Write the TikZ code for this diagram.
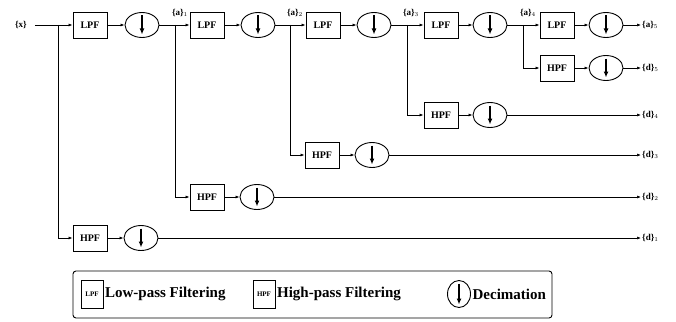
\documentclass[tikz,border=0pt]{standalone}
\usepackage{fontspec}
\setmainfont{Liberation Serif}
\usetikzlibrary{arrows.meta,shapes.geometric}
\tikzset{
  arr/.style={line width=0.7pt,-{Latex[length=4pt,width=3pt]}},
  filt/.style={draw,line width=0.9pt,minimum width=34pt,minimum height=26pt,inner sep=0pt,font=\bfseries\fontsize{10}{10}\selectfont},
  deci/.style={draw,ellipse,line width=0.9pt,minimum width=34pt,minimum height=25pt,inner sep=0pt,
    path picture={\draw[line width=1.3pt,-{Latex[length=6pt,width=5pt]}] ([yshift=-3pt]path picture bounding box.north) -- ([yshift=3pt]path picture bounding box.south);}},
  lab/.style={font=\bfseries\fontsize{9}{9}\selectfont,inner sep=1pt},
  outlab/.style={lab,anchor=west},
  legtxt/.style={anchor=west,font=\bfseries\fontsize{15}{15}\selectfont,inner sep=1.5pt},
  legbox/.style={filt,minimum width=22pt,minimum height=28pt,font=\bfseries\fontsize{7}{7}\selectfont},
}
\begin{document}
\begin{tikzpicture}[x=1pt,y=-1pt]
\useasboundingbox (0,0) rectangle (676,321);
% input
\node[lab] (xin) at (21,25) {\{x\}};
\coordinate (b0) at (58,25);
\node[filt] (lpf1) at (90,25) {LPF};
\node[deci] (d1) at (142,25) {};
\node[lab] (a1) at (180,13) {\{a\}$_1$};
\coordinate (b1) at (175,25);
\node[filt] (lpf2) at (207,25) {LPF};
\node[deci] (d2) at (258,25) {};
\node[lab] (a2) at (295,13) {\{a\}$_2$};
\coordinate (b2) at (290,25);
\node[filt] (lpf3) at (323,25) {LPF};
\node[deci] (d3) at (374,25) {};
\node[lab] (a3) at (411,13) {\{a\}$_3$};
\coordinate (b3) at (407,25);
\node[filt] (lpf4) at (441,25) {LPF};
\node[deci] (d4) at (490,25) {};
\node[lab] (a4) at (528,13) {\{a\}$_4$};
\coordinate (b4) at (523,25);
\node[filt] (lpf5) at (557,25) {LPF};
\node[deci] (d5) at (606,25) {};
\node[outlab] (oa5) at (641,25) {\{a\}$_5$};
% high-pass rows
\node[filt] (hpf5) at (557,68) {HPF};
\node[deci] (dh5) at (606,68) {};
\node[outlab] (od5) at (641,68) {\{d\}$_5$};
\node[filt] (hpf4) at (441,115) {HPF};
\node[deci] (dh4) at (490,115) {};
\node[outlab] (od4) at (641,115) {\{d\}$_4$};
\node[filt] (hpf3) at (322,155) {HPF};
\node[deci] (dh3) at (372,155) {};
\node[outlab] (od3) at (641,155) {\{d\}$_3$};
\node[filt] (hpf2) at (207,197) {HPF};
\node[deci] (dh2) at (257,197) {};
\node[outlab] (od2) at (641,197) {\{d\}$_2$};
\node[filt] (hpf1) at (90,238) {HPF};
\node[deci] (dh1) at (141,238) {};
\node[outlab] (od1) at (641,238) {\{d\}$_1$};
% connectors main chain
\draw[arr] (xin.east) ++(7,0) -- (lpf1.west);
\draw[arr] (lpf1) -- (d1);
\draw[arr] (d1) -- (lpf2);
\draw[arr] (lpf2) -- (d2);
\draw[arr] (d2) -- (lpf3);
\draw[arr] (lpf3) -- (d3);
\draw[arr] (d3) -- (lpf4);
\draw[arr] (lpf4) -- (d4);
\draw[arr] (d4) -- (lpf5);
\draw[arr] (lpf5) -- (d5);
\draw[arr] (d5) -- (oa5);
% branches
\draw[arr] (b0) |- (hpf1);
\draw[arr] (b1) |- (hpf2);
\draw[arr] (b2) |- (hpf3);
\draw[arr] (b3) |- (hpf4);
\draw[arr] (b4) |- (hpf5);
\draw[arr] (hpf1) -- (dh1);
\draw[arr] (hpf2) -- (dh2);
\draw[arr] (hpf3) -- (dh3);
\draw[arr] (hpf4) -- (dh4);
\draw[arr] (hpf5) -- (dh5);
\draw[arr] (dh1) -- (od1);
\draw[arr] (dh2) -- (od2);
\draw[arr] (dh3) -- (od3);
\draw[arr] (dh4) -- (od4);
\draw[arr] (dh5) -- (od5);
% legend
\node[draw,line width=0.9pt,rounded corners=3pt,minimum width=479pt,minimum height=47pt] (leg) at (312.5,294.5) {};
\node[legbox] (llpf) at (92,294) {LPF};
\node[legtxt] (tlpf) at (llpf.east) {Low-pass Filtering};
\node[legbox] (lhpf) at (264,294) {HPF};
\node[legtxt] (thpf) at (lhpf.east) {High-pass Filtering};
\node[deci,minimum width=23pt,minimum height=27pt] (ldec) at (459,294) {};
\node[legtxt] (tdec) at (ldec.east) {Decimation};
\end{tikzpicture}
\end{document}
